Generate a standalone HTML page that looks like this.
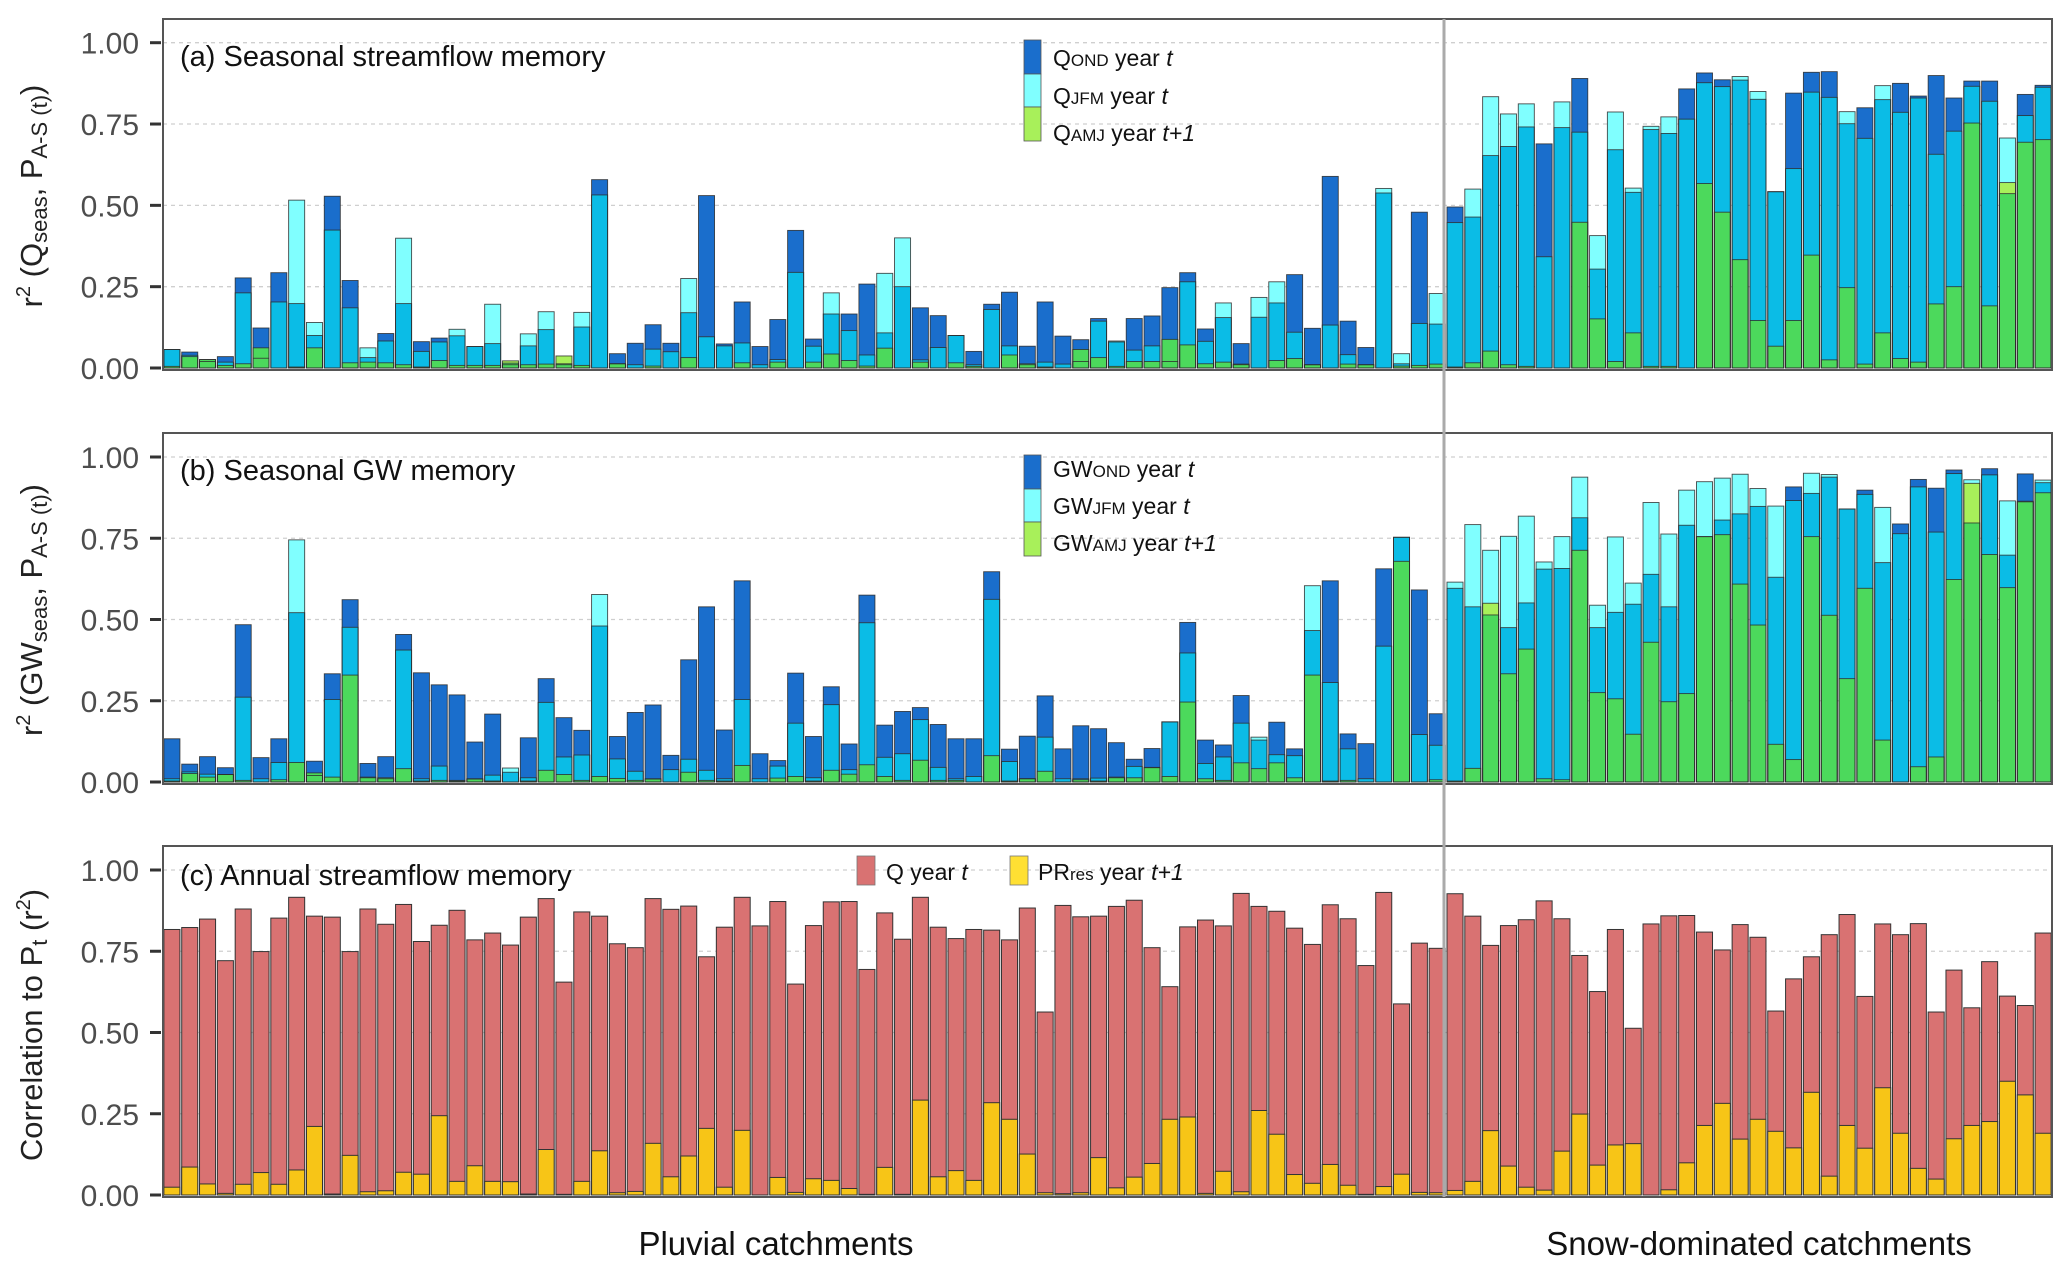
<!DOCTYPE html>
<html><head><meta charset="utf-8">
<style>
html,body{margin:0;padding:0;background:#fff;}
svg{display:block;font-family:"Liberation Sans",Arial,sans-serif;}
</style></head>
<body>
<svg id="chart" width="2067" height="1269" viewBox="0 0 2067 1269" xmlns="http://www.w3.org/2000/svg">
<rect x="0" y="0" width="2067" height="1269" fill="#fff"/>
<g id="layer-bars"></g>
<g id="layer-frames"></g>
<g font-size="23" fill="#111">
  <rect x="1024" y="40" width="17" height="34" fill="#1a6ecc" stroke="#555" stroke-width="0.8"/>
  <rect x="1024" y="74" width="17" height="33" fill="#80ffff" stroke="#555" stroke-width="0.8"/>
  <rect x="1024" y="107" width="17" height="34" fill="#a8f05a" stroke="#555" stroke-width="0.8"/>
  <text x="1053" y="66">Q<tspan font-size="17">OND</tspan> year <tspan font-style="italic">t</tspan></text>
  <text x="1053" y="104">Q<tspan font-size="17">JFM</tspan> year <tspan font-style="italic">t</tspan></text>
  <text x="1053" y="141">Q<tspan font-size="17">AMJ</tspan> year <tspan font-style="italic">t+1</tspan></text>
</g>
<g font-size="23" fill="#111">
  <rect x="1024" y="455" width="17" height="34" fill="#1a6ecc" stroke="#555" stroke-width="0.8"/>
  <rect x="1024" y="489" width="17" height="33" fill="#80ffff" stroke="#555" stroke-width="0.8"/>
  <rect x="1024" y="522" width="17" height="34" fill="#a8f05a" stroke="#555" stroke-width="0.8"/>
  <text x="1053" y="477">GW<tspan font-size="17">OND</tspan> year <tspan font-style="italic">t</tspan></text>
  <text x="1053" y="514">GW<tspan font-size="17">JFM</tspan> year <tspan font-style="italic">t</tspan></text>
  <text x="1053" y="551">GW<tspan font-size="17">AMJ</tspan> year <tspan font-style="italic">t+1</tspan></text>
</g>
<g font-size="23" fill="#111">
  <rect x="857" y="856" width="18" height="29" fill="#d97272" stroke="#777" stroke-width="0.8"/>
  <text x="886" y="880">Q year <tspan font-style="italic">t</tspan></text>
  <rect x="1010" y="856" width="18" height="29" fill="#ffe033" stroke="#777" stroke-width="0.8"/>
  <text x="1038" y="880">PR<tspan font-size="17">res</tspan> year <tspan font-style="italic">t+1</tspan></text>
</g>
<text x="180" y="66" font-size="29" fill="#111">(a) Seasonal streamflow memory</text>
<text x="180" y="480" font-size="29" fill="#111">(b) Seasonal GW memory</text>
<text x="180" y="885" font-size="29" fill="#111">(c) Annual streamflow memory</text>
<text transform="translate(42,196) rotate(-90)" text-anchor="middle" font-size="31" fill="#222">r<tspan font-size="20" dy="-12">2</tspan><tspan dy="12"> (Q</tspan><tspan font-size="22" dy="5">seas</tspan><tspan dy="-5">, P</tspan><tspan font-size="22" dy="5">A-S (t)</tspan><tspan dy="-5">)</tspan></text>
<text transform="translate(42,610) rotate(-90)" text-anchor="middle" font-size="31" fill="#222">r<tspan font-size="20" dy="-12">2</tspan><tspan dy="12"> (GW</tspan><tspan font-size="22" dy="5">seas</tspan><tspan dy="-5">, P</tspan><tspan font-size="22" dy="5">A-S (t)</tspan><tspan dy="-5">)</tspan></text>
<text transform="translate(42,1025) rotate(-90)" text-anchor="middle" font-size="31" fill="#222">Correlation to P<tspan font-size="22" dy="5">t</tspan><tspan dy="-5"> (r</tspan><tspan font-size="20" dy="-12">2</tspan><tspan dy="12">)</tspan></text>
<text x="776" y="1255" text-anchor="middle" font-size="33" fill="#111">Pluvial catchments</text>
<text x="1759" y="1255" text-anchor="middle" font-size="33" fill="#111">Snow-dominated catchments</text>
<line x1="1444" y1="19" x2="1444" y2="1197" stroke="#aaa" stroke-width="3"/>
</svg>
<script>
const seasonTicks = [0, 0.25, 0.5, 0.75, 1.0];
const tickLabels = ["0.00", "0.25", "0.50", "0.75", "1.00"];
const qOND = [.057,.049,.026,.035,.277,.123,.293,.198,.1,.528,.269,.032,.106,.198,.081,.092,.099,.066,.075,.015,.068,.118,.013,.126,.579,.044,.076,.133,.076,.17,.53,.074,.203,.066,.149,.423,.089,.166,.166,.258,.108,.25,.185,.161,.1,.051,.196,.233,.067,.203,.098,.087,.152,.08,.152,.16,.247,.293,.12,.155,.075,.156,.2,.287,.122,.589,.144,.063,.538,.013,.479,.135,.495,.464,.653,.681,.741,.689,.739,.89,.304,.671,.54,.733,.721,.858,.907,.886,.885,.826,.542,.845,.909,.911,.751,.8,.825,.875,.836,.899,.83,.882,.882,.536,.841,.869];
const qJFM = [.057,.039,.02,.018,.231,.03,.203,.516,.14,.424,.185,.062,.083,.399,.051,.08,.119,.066,.196,.01,.105,.173,.01,.171,.532,.013,.01,.058,.05,.275,.096,.068,.077,.01,.026,.294,.067,.231,.115,.04,.291,.4,.025,.063,.1,.01,.18,.068,.01,.018,.012,.02,.144,.083,.055,.068,.02,.265,.082,.2,.01,.217,.265,.11,.01,.132,.041,.01,.552,.044,.137,.229,.447,.55,.834,.781,.812,.342,.818,.725,.407,.787,.553,.743,.772,.765,.877,.865,.896,.85,.542,.613,.848,.832,.788,.706,.868,.786,.83,.657,.728,.866,.82,.707,.776,.863];
const qAMJ = [.005,.035,.026,.008,.013,.062,0,.003,.062,0,.016,.018,.016,.01,.003,.023,.008,.008,.008,.022,.01,.012,.037,.008,0,.013,0,.006,0,.032,0,0,.016,0,.018,0,.018,.043,.023,.006,.061,0,.018,0,.016,.005,0,.04,.013,.003,0,.057,.032,.005,.02,.02,.088,.071,.013,.018,.012,0,.023,.029,.01,0,.012,.01,0,.006,.008,.012,.003,.016,.052,.01,.005,0,0,.448,.151,.02,.108,.005,.005,0,.567,.479,.333,.146,.067,.146,.347,.025,.247,.012,.108,.029,.018,.197,.25,.753,.191,.57,.694,.702];
const gwOND = [.133,.055,.078,.044,.484,.075,.133,.521,.064,.333,.561,.057,.078,.454,.336,.299,.268,.123,.209,.03,.136,.318,.198,.159,.48,.14,.214,.237,.082,.376,.539,.16,.619,.087,.066,.335,.14,.293,.117,.575,.175,.217,.229,.177,.133,.133,.647,.101,.141,.265,.102,.173,.164,.121,.07,.103,.185,.491,.129,.114,.266,.129,.184,.102,.466,.619,.148,.118,.656,.753,.591,.21,.596,.539,.514,.475,.551,.655,.657,.813,.475,.522,.547,.639,.539,.79,.755,.806,.825,.848,.63,.908,.888,.938,.84,.898,.675,.794,.931,.904,.96,.797,.964,.698,.948,.921];
const gwJFM = [.01,.031,.024,.023,.261,.01,.06,.745,.02,.254,.476,.015,.01,.406,.01,.049,.005,.01,.021,.043,.013,.245,.077,.083,.577,.071,.033,.01,.038,.07,.036,.01,.254,.01,.049,.181,.013,.238,.038,.49,.076,.087,.192,.045,.01,.017,.562,.063,.01,.138,.01,.01,.012,.015,.048,.045,.185,.397,.057,.077,.181,.138,.084,.081,.604,.306,.102,.01,.418,.753,.146,.113,.615,.792,.713,.756,.818,.677,.755,.938,.544,.754,.612,.86,.763,.898,.924,.935,.947,.903,.849,.866,.95,.946,.84,.885,.845,.764,.908,.769,.949,.93,.945,.865,.864,.929];
const gwAMJ = [.003,.026,.015,.023,.005,0,.007,.06,.028,.015,.329,.013,.013,.041,.003,.005,.003,.009,.003,0,.003,.036,.023,.005,.017,.011,.005,.009,0,.03,.005,.003,.051,0,.012,.017,.003,.036,.024,.053,.017,.005,.067,.005,.005,0,.081,.003,.01,.033,0,.007,.003,.013,.013,.044,.017,.246,.01,.005,.059,.041,.059,.013,.329,.003,.005,0,0,.679,0,.007,.003,.042,.55,.333,.409,.01,.007,.713,.275,.256,.147,.43,.247,.272,.755,.761,.609,.483,.116,.069,.755,.513,.318,.596,.129,0,.047,.077,.623,.919,.7,.598,.862,.89];
const annualQ = [.817,.823,.849,.721,.88,.749,.852,.916,.858,.855,.749,.88,.833,.894,.78,.83,.876,.785,.806,.769,.855,.912,.655,.871,.858,.773,.761,.912,.879,.889,.733,.824,.916,.828,.903,.649,.829,.902,.903,.694,.868,.787,.916,.824,.789,.817,.815,.785,.883,.563,.891,.856,.858,.888,.907,.761,.641,.825,.846,.828,.928,.888,.873,.821,.771,.893,.85,.706,.931,.588,.775,.759,.927,.858,.768,.829,.847,.905,.85,.737,.626,.817,.513,.834,.859,.86,.809,.754,.832,.793,.566,.665,.733,.801,.863,.611,.834,.801,.835,.563,.692,.576,.718,.612,.583,.806];
const prRes = [.024,.086,.034,.005,.033,.069,.033,.077,.211,.003,.122,.01,.013,.07,.064,.244,.042,.09,.042,.041,.003,.14,.002,.042,.136,.007,.011,.159,.056,.12,.205,.024,.199,0,.054,.008,.05,.045,.02,.002,.085,.002,.292,.056,.075,.045,.284,.233,.126,.007,.004,.007,.115,.022,.055,.097,.233,.24,.005,.073,.01,.26,.187,.063,.036,.094,.03,.002,.026,.064,.008,.007,.014,.042,.198,.089,.024,.015,.135,.249,.092,.154,.158,0,.016,.099,.214,.282,.172,.233,.196,.145,.316,.058,.214,.144,.33,.19,.082,.049,.173,.214,.226,.35,.308,.19];

const NS = 'http://www.w3.org/2000/svg';
const barsLayer = document.getElementById('layer-bars');
const framesLayer = document.getElementById('layer-frames');
const plotLeft = 163, plotRight = 2052;
const nCat = annualQ.length;
const band = (plotRight - plotLeft) / nCat;
const barW = band * 0.9;
function xScale(i){ return plotLeft + i*band + (band-barW)/2; }
function makeY(oneY, zeroY){ return v => zeroY - v*(zeroY-oneY); }
const panels = [
  {key:'a', top:19, bottom:370, yOne:42.7, yZero:368},
  {key:'b', top:433, bottom:784, yOne:457, yZero:782},
  {key:'c', top:846, bottom:1197, yOne:870, yZero:1195}
];
const C = {dark:'#1a6ecc', midc:'#0bbce6', lightc:'#80ffff', midg:'#4cd95c', lightg:'#a8f05a'};

function mk(tag, attrs, parent){
  const e = document.createElementNS(NS, tag);
  for (const k in attrs) e.setAttribute(k, attrs[k]);
  parent.appendChild(e);
  return e;
}

panels.forEach(p => {
  const y = makeY(p.yOne, p.yZero);
  seasonTicks.forEach((t, k) => {
    if (t > 0) {
      const gl = mk('line', {x1:plotLeft, x2:plotRight, y1:y(t), y2:y(t), stroke:'#cfcfcf', 'stroke-width':1.3, 'stroke-dasharray':'4,4'}, barsLayer);
      
      
    }
    const tk = mk('line', {x1:150, x2:161, y1:y(t), y2:y(t), stroke:'#333', 'stroke-width':3}, framesLayer);
    
    
    const tl = mk('text', {x:139, y:y(t)+11, 'text-anchor':'end', 'font-size':30, fill:'#4d4d4d'}, framesLayer);
    tl.textContent = tickLabels[k];
    
    
  });
  const fr = mk('rect', {x:plotLeft, y:p.top, width:plotRight-plotLeft, height:p.bottom-p.top, fill:'none', stroke:'#555', 'stroke-width':2}, framesLayer);
  
  

  for (let i = 0; i < nCat; i++) {
    const x = xScale(i);
    if (p.key === 'c') {
      const q = annualQ[i], r = prRes[i];
      const b1 = mk('rect', {x:x, y:y(q), width:barW, height:y(0)-y(q), fill:'#d97272', stroke:'#333', 'stroke-width':1}, barsLayer);
      
      
      const b2 = mk('rect', {x:x, y:y(r), width:barW, height:y(0)-y(r), fill:'#f7c517', stroke:'#333', 'stroke-width':1}, barsLayer);
      
      
    } else {
      const o = p.key==='a' ? qOND[i] : gwOND[i];
      const j = p.key==='a' ? qJFM[i] : gwJFM[i];
      const g = p.key==='a' ? qAMJ[i] : gwAMJ[i];
      const pts = [0, o, j, g].sort((a,b)=>a-b);
      for (let s = 0; s < pts.length-1; s++) {
        const lo = pts[s], hi = pts[s+1];
        if (hi - lo <= 0) continue;
        const m = (lo+hi)/2;
        const io = m < o, ij = m < j, ig = m < g;
        let col = null;
        if (ig && io) col = C.midg; else if (ig) col = C.lightg;
        else if (ij && io) col = C.midc; else if (ij) col = C.lightc; else if (io) col = C.dark;
        if (!col) continue;
        const seg = mk('rect', {x:x, y:y(hi), width:barW, height:y(lo)-y(hi), fill:col}, barsLayer);
        
        
      }
      [o, j, g].forEach(v => {
        if (v <= 0) return;
        const ol = mk('rect', {x:x, y:y(v), width:barW, height:y(0)-y(v), fill:'none', stroke:'#2a2a2a', 'stroke-width':0.9, 'stroke-opacity':0.85}, barsLayer);
        
        
      });
    }
  }
});
</script>
</body></html>
